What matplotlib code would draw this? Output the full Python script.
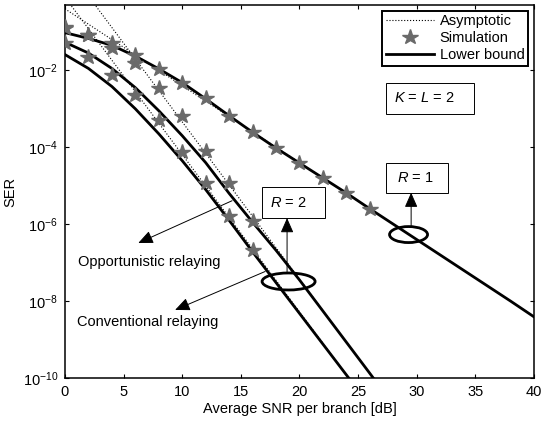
import numpy as np
import matplotlib
matplotlib.use('Agg')
import matplotlib.pyplot as plt
from matplotlib.patches import Ellipse, Rectangle
from matplotlib.transforms import Affine2D, ScaledTranslation

plt.rcParams['font.family'] = ['Liberation Sans', 'DejaVu Sans']
plt.rcParams['mathtext.fontset'] = 'custom'
plt.rcParams['mathtext.rm'] = 'Liberation Sans'
plt.rcParams['mathtext.it'] = 'Liberation Sans:italic'
plt.rcParams['font.size'] = 10.5

# lower bounds, log10(SER)
snr_r1 = [0, 2, 4, 6, 8, 10, 12, 14, 16, 18, 20, 22, 24, 26, 28, 30, 32, 34, 36, 38, 40]
lb_r1 = [-1.02, -1.17, -1.35, -1.63, -1.96, -2.32, -2.74, -3.18, -3.61, -4.02, -4.41,
         -4.80, -5.19, -5.60, -6.00, -6.40, -6.80, -7.20, -7.60, -8.00, -8.41]
snr_r2 = [0, 2, 4, 6, 8, 10, 12, 14, 16, 18, 20, 22, 24, 26, 28]
lb_conv = [-1.27, -1.55, -1.95, -2.45, -3.05, -3.70, -4.40, -5.20, -5.95, -6.68, -7.45,
           -8.26, -9.07, -9.88, -10.70]
lb_opp = [-1.59, -1.95, -2.42, -3.00, -3.65, -4.35, -5.10, -5.90, -6.72, -7.52, -8.32,
          -9.12, -9.92, -10.72, -11.50]

# simulation points
snr_sim_r1 = [0, 2, 4, 6, 8, 10, 12, 14, 16, 18, 20, 22, 24, 26]
sim_r1 = [-0.89, -1.07, -1.28, -1.59, -1.96, -2.32, -2.73, -3.18, -3.60, -4.02, -4.41,
          -4.80, -5.19, -5.61]
snr_sim_r2 = [0, 2, 4, 6, 8, 10, 12, 14, 16]
sim_conv = [-0.88, -1.08, -1.43, -1.80, -2.45, -3.18, -4.09, -4.92, -5.93]
sim_opp = [-1.28, -1.64, -2.11, -2.63, -3.30, -4.12, -4.92, -5.80, -6.67]

# asymptotes (straight lines on the log plot), end points
snr_asym = [0, 40]
asym_r1 = [-0.40, -8.40]
asym_conv = [0.75, -15.61]
asym_opp = [-0.10, -16.46]


def ser(v):
    return 10.0 ** np.array(v)


fig = plt.figure(figsize=(5.41, 4.21), dpi=100)
ax = fig.add_axes([0.1201, 0.1021, 0.8670, 0.8860])
ax.set_yscale('log')

for a in [asym_r1, asym_conv, asym_opp]:
    ax.plot(snr_asym, ser(a), ':', color='k', lw=0.8, zorder=2)
ax.plot(snr_r1, ser(lb_r1), '-', color='k', lw=2, zorder=3)
ax.plot(snr_r2, ser(lb_conv), '-', color='k', lw=2, zorder=3)
ax.plot(snr_r2, ser(lb_opp), '-', color='k', lw=2, zorder=3)
star = dict(ls='none', marker='*', ms=11.5, color='#6a6a6a', mec='#6a6a6a', zorder=4)
ax.plot(snr_sim_r1, ser(sim_r1), **star)
ax.plot(snr_sim_r2, ser(sim_conv), **star)
ax.plot(snr_sim_r2, ser(sim_opp), **star)

ax.set_xlim(0, 40)
ax.set_ylim(1e-10, 0.5)
ax.set_xticks([0, 5, 10, 15, 20, 25, 30, 35, 40])
ax.set_yticks([1e-10, 1e-8, 1e-6, 1e-4, 1e-2])
ax.minorticks_off()
ax.tick_params(direction='in', top=True, right=True, length=3.2, width=0.8, pad=5)
for s in ax.spines.values():
    s.set_linewidth(1.1)
ax.set_xlabel('Average SNR per branch [dB]', labelpad=2)
ax.set_ylabel('SER', labelpad=4)

# legend
h1, = ax.plot([], [], ':', color='k', lw=0.8)
h2, = ax.plot([], [], **star)
h3, = ax.plot([], [], '-', color='k', lw=2)
leg = ax.legend([h1, h2, h3], ['Asymptotic', 'Simulation', 'Lower bound'],
                loc='upper right', fancybox=False, framealpha=1, edgecolor='k',
                borderaxespad=0.4, borderpad=0.25, labelspacing=0.2,
                handlelength=3.3, handletextpad=0.4, numpoints=1)
leg.get_frame().set_linewidth(1.4)

# text boxes
boxes = [((27.39, 32.7), (-5.18, -4.40)),
         ((16.78, 22.18), (-5.84, -5.04)),
         ((27.39, 34.9), (-3.13, -2.33))]
for (x1, x2), (y1, y2) in boxes:
    ax.add_patch(Rectangle((x1, 10 ** y1), x2 - x1, 10 ** y2 - 10 ** y1,
                           fc='white', ec='k', lw=0.7, zorder=5))
ax.text(28.3, 10 ** -4.79, r'$R$ = 1', va='center', ha='left', zorder=6)
ax.text(17.5, 10 ** -5.44, r'$R$ = 2', va='center', ha='left', zorder=6)
ax.text(28.07, 10 ** -2.73, r'$K$ = $L$ = 2', va='center', ha='left', zorder=6)

# ellipses marking the curve groups (sizes in pixels)
for (cx, cy), w, h in [((29.3, -6.27), 38, 16), ((19.07, -7.49), 53, 17)]:
    tr = Affine2D() + ScaledTranslation(cx, 10 ** cy, ax.transData)
    ax.add_patch(Ellipse((0, 0), w, h, transform=tr, fill=False, ec='k', lw=2, zorder=5))

arrow = dict(arrowstyle='-|>,head_length=0.5,head_width=0.22', color='k', lw=0.7,
             mutation_scale=18, shrinkA=0, shrinkB=0)
ax.annotate('', xy=(29.52, 10 ** -5.18), xytext=(29.52, 10 ** -6.06), arrowprops=arrow, zorder=6)
ax.annotate('', xy=(18.94, 10 ** -5.84), xytext=(18.94, 10 ** -7.26), arrowprops=arrow, zorder=6)
ax.annotate('', xy=(6.25, 10 ** -6.49), xytext=(14.25, 10 ** -5.39), arrowprops=arrow, zorder=6)
ax.annotate('', xy=(9.39, 10 ** -8.23), xytext=(17.07, 10 ** -7.23), arrowprops=arrow, zorder=6)
ax.text(1.1, 10 ** -6.98, 'Opportunistic relaying', va='center', ha='left')
ax.text(1.05, 10 ** -8.54, 'Conventional relaying', va='center', ha='left')

fig.savefig('out.png', dpi=100)
